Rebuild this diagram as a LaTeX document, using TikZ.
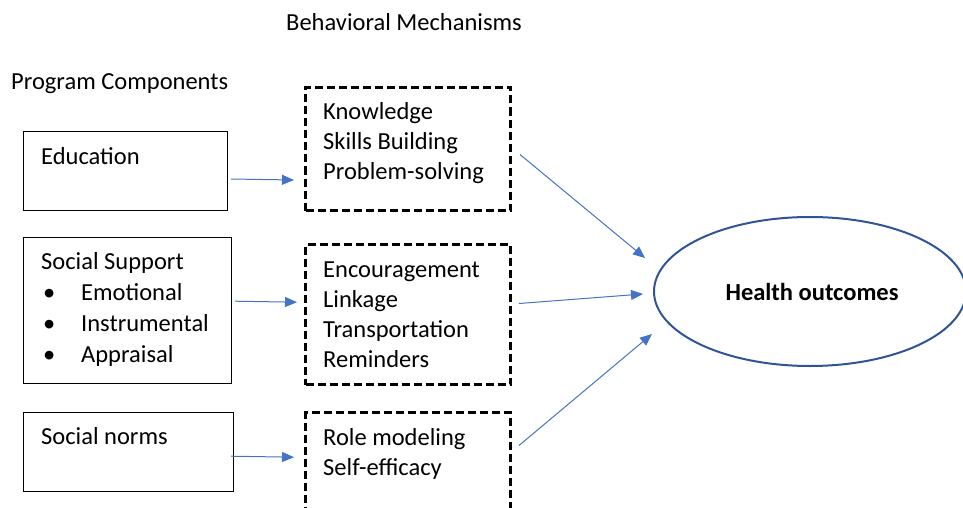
\documentclass[tikz,border=0pt]{standalone}
\usepackage{fontspec}
\setmainfont{Carlito}
\definecolor{arrowblue}{RGB}{68, 114, 196}
\definecolor{ovalblue}{RGB}{47, 85, 151}
\usetikzlibrary{shapes, arrows.meta, positioning, calc}

\begin{document}
\begin{tikzpicture}[x=1pt, y=-1pt,
  compbox/.style={draw=black, line width=1pt, inner sep=0pt, anchor=north west},
  mechbox/.style={draw=black, line width=3pt, dash pattern=on 8pt off 4pt, line join=miter, inner sep=0pt, anchor=north west, minimum width=205pt},
  boxtext/.style={anchor=base west, inner sep=0pt, align=left, font=\fontsize{24.5}{30}\selectfont},
  flow/.style={draw=arrowblue, line width=1pt, -{Triangle[length=12pt, width=10pt]}}]
  \useasboundingbox (0,0) rectangle (963,508);
  \clip (0,0) rectangle (963,508);

  % Headings
  \node[boxtext] (mech-title) at (286,31) {Behavioral Mechanisms};
  \node[boxtext] (comp-title) at (11,90) {Program Components};

  % Program components (base anchor = last line)
  \node[compbox, minimum width=204pt, minimum height=79pt] (edu) at (23,131) {};
  \node[boxtext] (edu-txt) at ($(edu.north west)+(18,33)$) {Education};

  \node[compbox, minimum width=208pt, minimum height=146pt] (ss) at (23,237) {};
  \node[boxtext, font=\fontsize{24.5}{31}\selectfont] (ss-txt) at ($(ss.north west)+(18,125)$) {Social Support\\
    \makebox[40pt][l]{\hspace{2pt}\textbullet}Emotional\\
    \makebox[40pt][l]{\hspace{2pt}\textbullet}Instrumental\\
    \makebox[40pt][l]{\hspace{2pt}\textbullet}Appraisal};

  \node[compbox, minimum width=210pt, minimum height=79pt] (norms) at (23,412) {};
  \node[boxtext] (norms-txt) at ($(norms.north west)+(18,32)$) {Social norms};

  % Behavioral mechanisms
  \node[mechbox, minimum height=123pt] (know) at (304,86) {};
  \node[boxtext] (know-txt) at ($(know.north west)+(19,93)$) {Knowledge\\Skills Building\\Problem-solving};

  \node[mechbox, minimum height=140pt] (encour) at (304,243) {};
  \node[boxtext] (encour-txt) at ($(encour.north west)+(19,124)$) {Encouragement\\Linkage\\Transportation\\Reminders};

  \node[mechbox, minimum height=120pt] (role) at (304,411) {};
  \node[boxtext] (role-txt) at ($(role.north west)+(19,64)$) {Role modeling\\Self-efficacy};

  % Outcome
  \node[ellipse, draw=ovalblue, line width=2pt, minimum width=312pt, minimum height=149pt, inner sep=0pt,
        font=\fontsize{24.5}{30}\selectfont\bfseries] (health) at (810,291.5) {\hspace{4pt}Health outcomes};

  % Arrows
  \draw[flow] ($(edu.east)+(3,8)$) -- ($(know.west)+(-10,31)$);
  \draw[flow] ($(ss.east)+(3,-9.3)$) -- ($(encour.west)+(-7,-12.3)$);
  \draw[flow] ($(norms.east)+(-3,4.2)$) -- ($(role.west)+(-10,-15.3)$);

  \draw[flow] ($(know.east)+(8,5.5)$) -- ($(health.west)+(-8,-33.5)$);
  \draw[flow] ($(encour.east)+(7,-11)$) -- ($(health.west)+(-10,2.5)$);
  \draw[flow] ($(role.east)+(7,-27)$) -- ($(health.west)+(-1,42.5)$);
\end{tikzpicture}
\end{document}
